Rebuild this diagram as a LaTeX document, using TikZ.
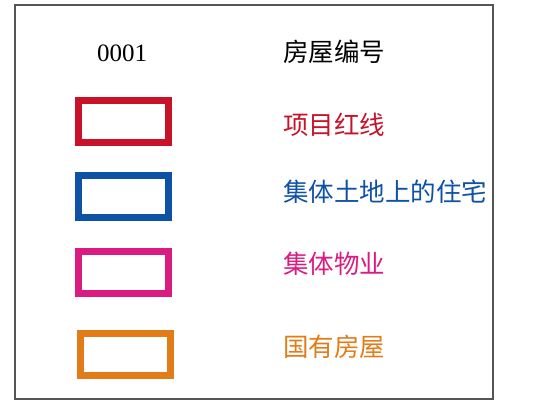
\documentclass[tikz,border=0pt]{standalone}
\usepackage{fontspec}
\setmainfont{Liberation Serif}
\newfontfamily\cjk{Noto Sans CJK SC}
\definecolor{frame-gray}{RGB}{85,85,85}
\definecolor{line-red}{RGB}{200,18,42}
\definecolor{line-blue}{RGB}{14,82,165}
\definecolor{line-magenta}{RGB}{218,28,130}
\definecolor{line-orange}{RGB}{226,124,24}

\tikzset{
    frame/.style={draw=frame-gray, line width=1.4pt},
    swatch/.style={draw=#1, line width=7pt, minimum width=90pt, minimum height=42pt, inner sep=0pt},
    legend-label/.style={anchor=west, inner sep=0pt, text=#1,
        font=\cjk\fontsize{25.5}{25.5}\selectfont, text height=22.4pt, text depth=3.1pt},
    number/.style={inner sep=0pt, font=\fontsize{25}{25}\selectfont, text height=17pt, text depth=0pt},
}

\begin{document}
\begin{tikzpicture}[x=1pt, y=-1pt]
    \useasboundingbox (0,0) rectangle (542,406);
    \draw [frame] (15,5) rectangle (493,399);

    % header row
    \node [number] (house-no) at (122,53) {0001};
    \node [legend-label=black] (house-no-label) at (283,52) {房屋编号};

    % legend rows
    \node [swatch=line-red] (red-line) at (123.5,121.5) {};
    \node [legend-label=line-red] (red-line-label) at (283,125) {项目红线};

    \node [swatch=line-blue] (collective-home) at (123.5,196.5) {};
    \node [legend-label=line-blue] (collective-home-label) at (283,192) {集体土地上的住宅};

    \node [swatch=line-magenta] (collective-property) at (123.5,273) {};
    \node [legend-label=line-magenta] (collective-property-label) at (283,264) {集体物业};

    \node [swatch=line-orange] (state-house) at (125,354.5) {};
    \node [legend-label=line-orange] (state-house-label) at (283,347) {国有房屋};
\end{tikzpicture}
\end{document}
